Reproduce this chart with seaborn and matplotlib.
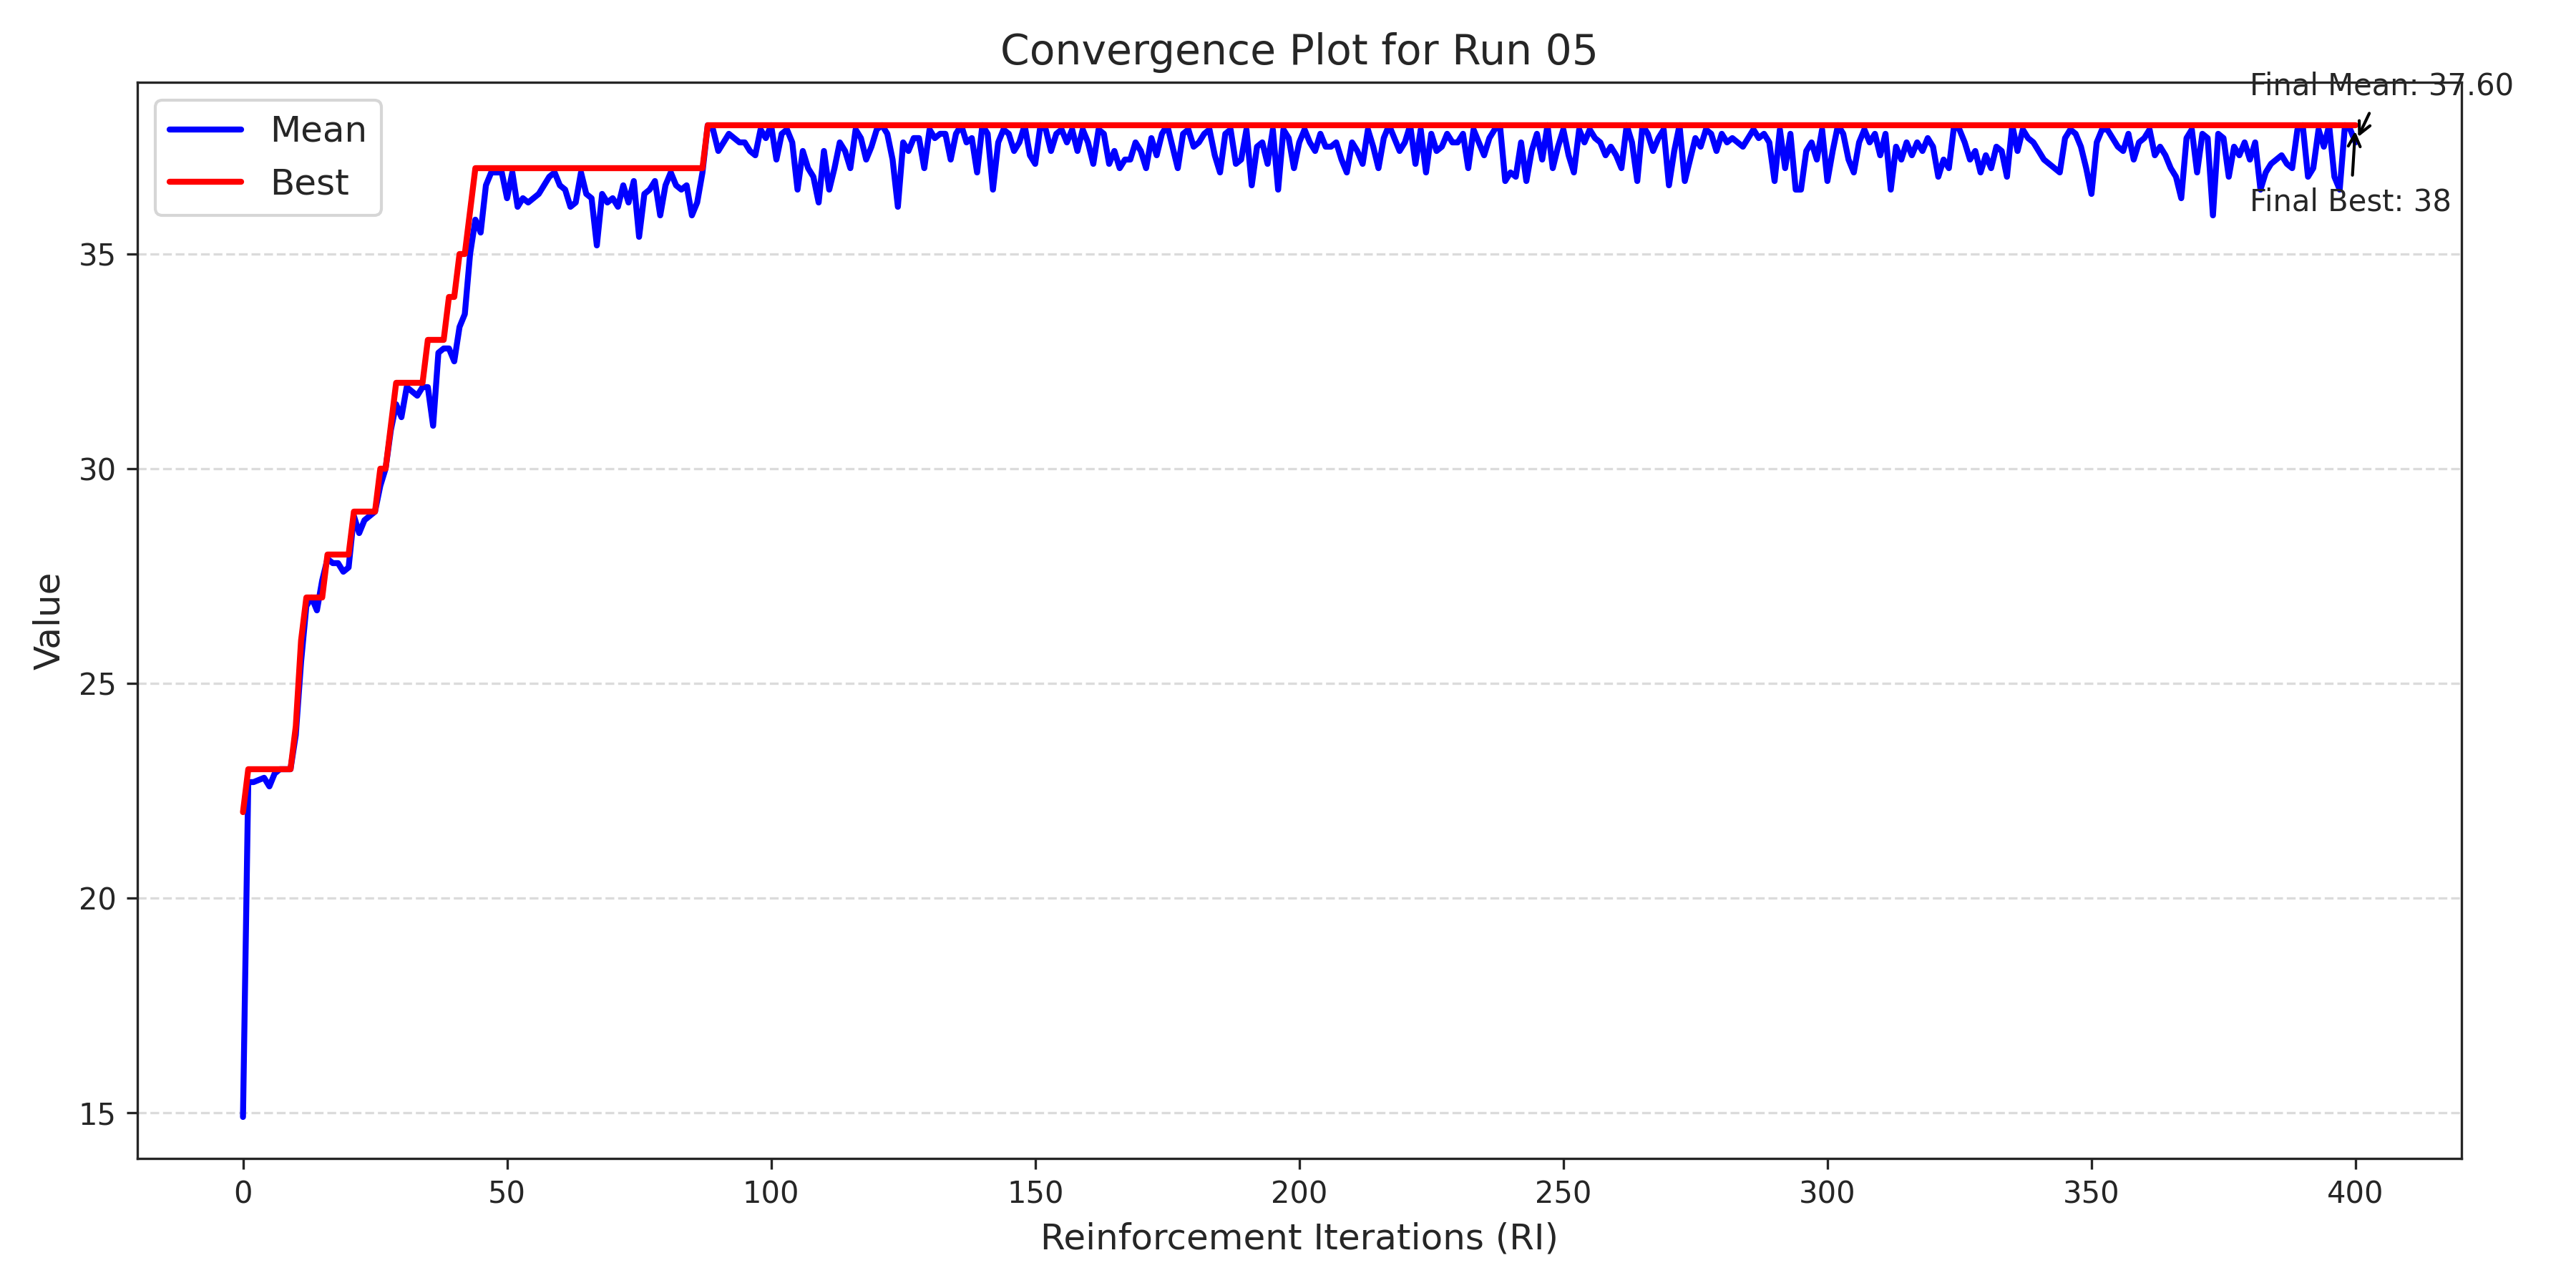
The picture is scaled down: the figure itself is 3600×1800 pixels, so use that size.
import numpy as np
import pandas as pd
import seaborn as sns
import matplotlib
matplotlib.use("Agg")
import matplotlib.pyplot as plt

mean_early = [14.9, 22.7, 22.7, 22.75, 22.8, 22.6, 22.9, 23.0, 23.0, 23.0,
              23.8, 25.5, 26.8, 27.0, 26.7, 27.4, 27.9, 27.8, 27.8, 27.6,
              27.7, 28.9, 28.5, 28.8, 28.9, 29.0, 29.6, 30.0, 30.9, 31.5,
              31.2, 31.9, 31.8, 31.7, 31.9, 31.9, 31.0, 32.7, 32.8, 32.8,
              32.5, 33.3, 33.6, 35.0, 35.8, 35.5, 36.6, 36.9, 36.9, 36.9,
              36.3, 36.9, 36.1, 36.3, 36.2, 36.3, 36.4, 36.6, 36.8, 36.9,
              36.6, 36.5, 36.1, 36.2, 36.9, 36.4, 36.3, 35.2, 36.4, 36.2,
              36.3, 36.1, 36.6, 36.2, 36.7, 35.4, 36.4, 36.5, 36.7, 35.9,
              36.6, 36.9, 36.6, 36.5, 36.6, 35.9, 36.2, 36.9]
mean_late = [
 38.0, 37.9, 37.4, 37.6, 37.8, 37.7, 37.6, 37.6, 37.4, 37.3, 37.9, 37.7, 38.0, 37.2, 37.8, 37.9, 37.6, 36.5, 37.4, 37.0,
 36.8, 36.2, 37.4, 36.5, 37.0, 37.6, 37.4, 37.0, 37.9, 37.7, 37.2, 37.5, 37.9, 38.0, 37.8, 37.2, 36.1, 37.6, 37.4, 37.7,
 37.7, 37.0, 37.9, 37.7, 37.8, 37.8, 37.2, 37.8, 38.0, 37.6, 37.7, 36.9, 38.0, 37.8, 36.5, 37.6, 37.9, 37.8, 37.4, 37.6,
 38.0, 37.3, 37.1, 38.0, 37.9, 37.4, 37.8, 37.9, 37.6, 37.9, 37.4, 37.9, 37.6, 37.1, 37.9, 37.8, 37.1, 37.4, 37.0, 37.2,
 37.2, 37.6, 37.4, 37.0, 37.7, 37.3, 37.8, 38.0, 37.5, 37.0, 37.8, 37.9, 37.5, 37.6, 37.8, 37.9, 37.3, 36.9, 37.8, 37.9,
 37.1, 37.2, 37.9, 36.6, 37.5, 37.6, 37.1, 37.9, 36.5, 37.9, 37.7, 37.0, 37.6, 37.9, 37.6, 37.4, 37.8, 37.5, 37.5, 37.6,
 37.2, 36.9, 37.6, 37.4, 37.1, 37.9, 37.5, 37.0, 37.7, 38.0, 37.7, 37.4, 37.6, 38.0, 37.1, 37.9, 36.9, 37.8, 37.4, 37.5,
 37.8, 37.6, 37.6, 37.8, 37.0, 37.9, 37.6, 37.3, 37.7, 37.9, 38.0, 36.7, 36.9, 36.8, 37.6, 36.7, 37.4, 37.8, 37.2, 38.0,
 37.0, 37.5, 37.9, 37.3, 36.9, 37.9, 37.6, 37.9, 37.7, 37.6, 37.3, 37.5, 37.3, 37.0, 38.0, 37.6, 36.7, 38.0, 37.8, 37.4,
 37.7, 37.9, 36.6, 37.4, 38.0, 36.7, 37.2, 37.7, 37.5, 37.9, 37.8, 37.4, 37.8, 37.6, 37.7, 37.6, 37.5, 37.7, 37.9, 37.7,
 37.8, 37.6, 36.7, 37.9, 37.0, 37.8, 36.5, 36.5, 37.4, 37.6, 37.2, 37.9, 36.7, 37.4, 38.0, 37.8, 37.2, 36.9, 37.6, 37.9,
 37.6, 37.8, 37.3, 37.8, 36.5, 37.5, 37.2, 37.6, 37.3, 37.6, 37.4, 37.7, 37.5, 36.8, 37.2, 37.0, 38.0, 37.9, 37.6, 37.2,
 37.4, 36.9, 37.3, 37.0, 37.5, 37.4, 36.8, 38.0, 37.4, 37.9, 37.7, 37.6, 37.4, 37.2, 37.1, 37.0, 36.9, 37.7, 37.9, 37.8,
 37.5, 37.0, 36.4, 37.6, 37.9, 37.9, 37.7, 37.5, 37.4, 37.8, 37.2, 37.6, 37.7, 37.9, 37.3, 37.5, 37.3, 37.0, 36.8, 36.3,
 37.7, 37.9, 36.9, 37.8, 37.7, 35.9, 37.8, 37.7, 36.8, 37.5, 37.3, 37.6, 37.2, 37.6, 36.5, 36.9, 37.1, 37.2, 37.3, 37.1,
 37.0, 37.9, 38.0, 36.8, 37.0, 37.9, 37.5, 38.0, 36.8, 36.5, 38.0, 37.9, 37.6]
best_early = [22, 23, 23, 23, 23, 23, 23, 23, 23, 23,
              24, 26, 27, 27, 27, 27, 28, 28, 28, 28,
              28, 29, 29, 29, 29, 29, 30, 30, 31, 32,
              32, 32, 32, 32, 32, 33, 33, 33, 33, 34,
              34, 35, 35, 36, 37]
mean_vals = mean_early + mean_late
n = len(mean_vals)
best_vals = best_early + [37] * (88 - len(best_early)) + [38] * (n - 88)
iters = list(range(n))

df = pd.DataFrame({"RI": iters, "Mean": mean_vals, "Best": best_vals})

sns.set_style("ticks")
plt.rcParams['font.family'] = ['DejaVu Sans']
fig, ax = plt.subplots(figsize=(12, 6), dpi=300)
sns.lineplot(data=df, x="RI", y="Mean", color="blue", linewidth=2, label="Mean", ax=ax)
sns.lineplot(data=df, x="RI", y="Best", color="red", linewidth=2, label="Best", ax=ax)
ax.set_xlim(-20, 420)
ax.set_ylim(13.93, 39.0)
ax.grid(axis="y", linestyle="--", alpha=0.7)
ax.set_title("Convergence Plot for Run 05", fontsize=14)
ax.set_xlabel("Reinforcement Iterations (RI)", fontsize=12)
ax.set_ylabel("Value", fontsize=12)
ax.legend(fontsize=12, loc="upper left")
last = iters[-1]
ax.annotate(f"Final Mean: {mean_vals[-1]:.2f}", xy=(last, mean_vals[-1]), xytext=(380, 38.7),
            arrowprops=dict(arrowstyle="->", color="black"), fontsize=10)
ax.annotate(f"Final Best: {best_vals[-1]}", xy=(last, best_vals[-1]), xytext=(380, 36.0),
            arrowprops=dict(arrowstyle="->", color="black"), fontsize=10)
fig.tight_layout()
fig.savefig("out.png", dpi=300)
